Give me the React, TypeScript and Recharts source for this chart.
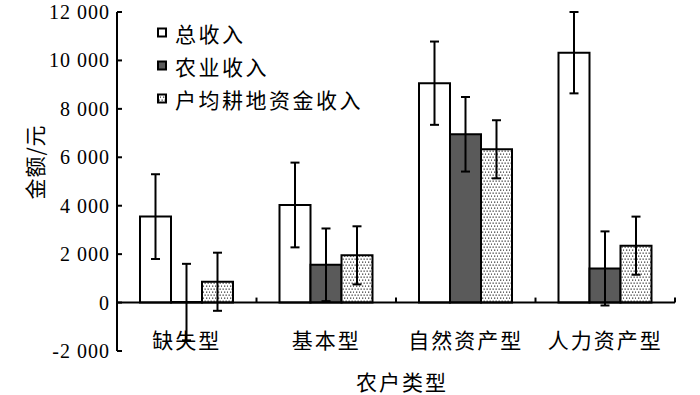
import { BarChart, Bar, XAxis, YAxis, ErrorBar, Legend, ReferenceLine } from 'recharts';

const categories = ['缺失型', '基本型', '自然资产型', '人力资产型'];
const seriesNames = ['总收入', '农业收入', '户均耕地资金收入'];

const totalIncome = [3550, 4030, 9060, 10320];
const totalErr = [1750, 1750, 1720, 1680];
const agriIncome = [20, 1560, 6950, 1410];
const agriErr = [1580, 1500, 1540, 1530];
const landIncome = [860, 1950, 6330, 2350];
const landErr = [1200, 1200, 1200, 1200];

const yTicks = [-2000, 0, 2000, 4000, 6000, 8000, 10000, 12000];

const data = categories.map((name, i) => ({
  name,
  total: totalIncome[i],
  totalErr: totalErr[i],
  agri: agriIncome[i],
  agriErr: agriErr[i],
  land: landIncome[i],
  landErr: landErr[i],
}));

const fills = ['#ffffff', '#5a5a5a', 'url(#dots)'];
const cjk = '"Noto Sans CJK SC", "Noto Sans", sans-serif';
const serif = '"Liberation Serif", "Times New Roman", serif';

const fmt = (v: number) => {
  const s = String(Math.abs(v)).replace(/\B(?=(\d{3})+(?!\d))/g, ' ');
  return v < 0 ? '-' + s : s;
};

const ValueTick = ({ x, y, payload }: any) => (
  <text x={x} y={y} textAnchor="end" dominantBaseline="central"
    style={{ fontFamily: serif, fontSize: 20, letterSpacing: 1 }} fill="#000">
    {fmt(payload.value)}
  </text>
);

// category labels sit just below the zero line, inside the plot
const CategoryTick = ({ x, y, payload }: any) => (
  <text x={x} y={y - 12} textAnchor="middle" dominantBaseline="central"
    style={{ fontFamily: cjk, fontSize: 21, letterSpacing: 2 }} fill="#000">
    {payload.value}
  </text>
);

// zero line doubles as the x axis, with small marks between categories
const ZeroAxis = (p: any) => {
  const { x1, y1, x2 } = p;
  const step = (x2 - x1) / categories.length;
  return (
    <g>
      <line x1={x1} y1={y1} x2={x2} y2={y1} stroke="#000" strokeWidth={2} />
      {categories.map((_, i) => (
        <line key={i} x1={x1 + (i + 1) * step} x2={x1 + (i + 1) * step}
          y1={y1} y2={y1 - 5} stroke="#000" strokeWidth={2} />
      ))}
    </g>
  );
};

const LegendBox = () => (
  <div style={{ fontFamily: cjk, fontSize: 21, letterSpacing: 2.5, color: '#000' }}>
    {seriesNames.map((n, i) => (
      <div key={n} style={{ display: 'flex', alignItems: 'center', height: 33.4 }}>
        <svg width={18} height={12} style={{ marginRight: 2 }}>
          <rect x={3} y={1.5} width={8} height={8} fill={fills[i]} stroke="#000" strokeWidth={2} />
        </svg>
        <span>{n}</span>
      </div>
    ))}
  </div>
);

export default function App() {
  return (
    <div style={{ position: 'absolute', left: 0, top: 0, background: '#fff' }}>
      <BarChart width={700} height={395} data={data} barGap={0} barSize={31}
        margin={{ top: 12, right: 25, left: 0, bottom: 0 }}>
        <defs>
          <pattern id="dots" width={6} height={6} patternUnits="userSpaceOnUse">
            <rect width={6} height={6} fill="#fff" />
            <rect x={0.5} y={0.5} width={1.3} height={1.3} fill="#444" />
            <rect x={3.5} y={0.5} width={1.3} height={1.3} fill="#444" />
            <rect x={2} y={3.5} width={1.3} height={1.3} fill="#444" />
            <rect x={5} y={3.5} width={1.3} height={1.3} fill="#444" />
          </pattern>
        </defs>
        <XAxis dataKey="name" axisLine={false} tickLine={false} tickSize={0} tickMargin={0}
          height={44} interval={0} tick={<CategoryTick />}
          label={{
            content: ({ viewBox }: any) => (
              <text x={viewBox.x + viewBox.width / 2 + 6} y={381} textAnchor="middle"
                dominantBaseline="central" style={{ fontFamily: cjk, fontSize: 21, letterSpacing: 2 }} fill="#000">
                农户类型
              </text>
            ),
          }} />
        <YAxis width={117} domain={[-2000, 12000]} ticks={yTicks} allowDataOverflow
          tickSize={-5} tickMargin={12} tick={<ValueTick />}
          axisLine={{ stroke: '#000', strokeWidth: 2 }} tickLine={{ stroke: '#000', strokeWidth: 2 }}
          label={{
            content: () => (
              <text x={34} y={162} transform="rotate(-90, 34, 162)" textAnchor="middle"
                dominantBaseline="central" style={{ fontFamily: cjk, fontSize: 21, letterSpacing: 1 }} fill="#000">
                金额/元
              </text>
            ),
          }} />
        <Legend layout="vertical" align="center" verticalAlign="middle" content={<LegendBox />}
          wrapperStyle={{ left: 155, top: 16, width: 280, height: 104 }} />
        <Bar dataKey="total" name={seriesNames[0]} fill={fills[0]} stroke="#000" strokeWidth={2} isAnimationActive={false}>
          <ErrorBar dataKey="totalErr" width={4.5} stroke="#000" strokeWidth={2} isAnimationActive={false} />
        </Bar>
        <Bar dataKey="agri" name={seriesNames[1]} fill={fills[1]} stroke="#000" strokeWidth={2} isAnimationActive={false}>
          <ErrorBar dataKey="agriErr" width={4.5} stroke="#000" strokeWidth={2} isAnimationActive={false} />
        </Bar>
        <Bar dataKey="land" name={seriesNames[2]} fill={fills[2]} stroke="#000" strokeWidth={2} isAnimationActive={false}>
          <ErrorBar dataKey="landErr" width={4.5} stroke="#000" strokeWidth={2} isAnimationActive={false} />
        </Bar>
        <ReferenceLine y={0} shape={<ZeroAxis />} />
      </BarChart>
    </div>
  );
}
